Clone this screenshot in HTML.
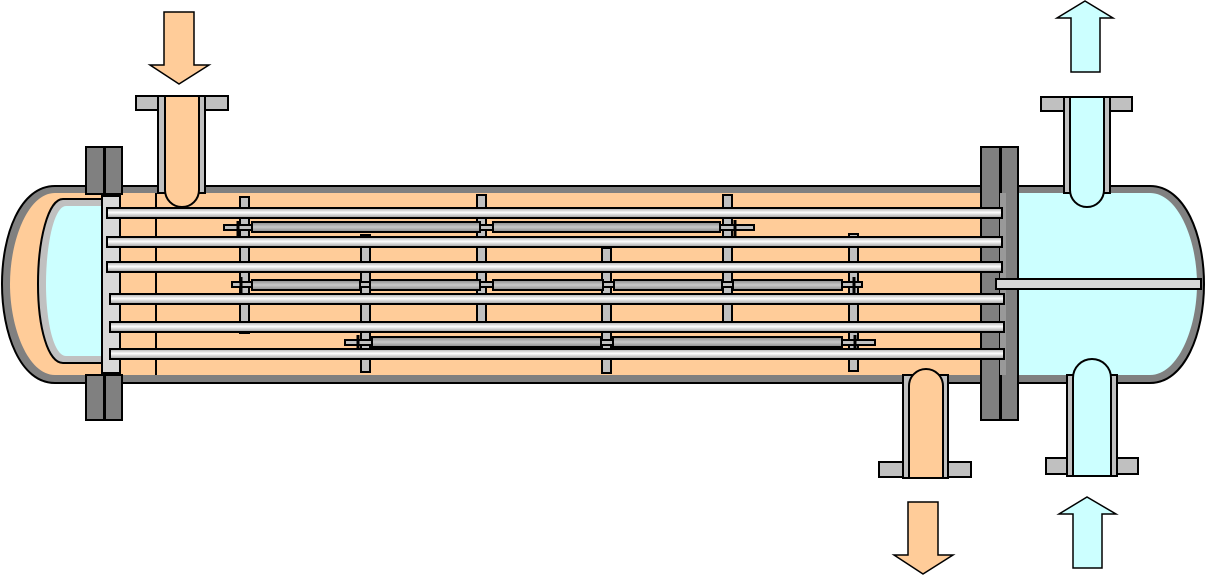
<!DOCTYPE html>
<html><head><meta charset="utf-8"><style>html,body{margin:0;padding:0;background:#fff}svg{display:block}</style></head>
<body>
<svg width="1206" height="575" viewBox="0 0 1206 575" xmlns="http://www.w3.org/2000/svg">
<defs>
<linearGradient id="tube" x1="0" y1="0" x2="0" y2="1">
<stop offset="0" stop-color="#aaa"/><stop offset="0.45" stop-color="#fff"/><stop offset="1" stop-color="#999"/>
</linearGradient>
<linearGradient id="rod" x1="0" y1="0" x2="0" y2="1">
<stop offset="0" stop-color="#888"/><stop offset="0.5" stop-color="#c8c8c8"/><stop offset="1" stop-color="#888"/>
</linearGradient>
</defs>
<g stroke="#000" stroke-width="2">
<!-- shell body -->
<rect x="100" y="186" width="920" height="197" fill="#808080"/>
<rect x="100" y="193" width="881" height="182" fill="#ffcc99" stroke="none"/>
<!-- left head -->
<path d="M55,186 C20,186 2,235 2,284 C2,333 20,383 55,383 L100,383 L100,186 Z" fill="#808080"/>
<path d="M55,193 C28,193 10,240 10,284 C10,328 28,375 55,375 L110,375 L110,193 Z" fill="#ffcc99" stroke="none"/>
<path d="M110,199 L63,199 C48,199 38,240 38,284 C38,328 48,363 63,363 L110,363 Z" fill="#c0c0c0"/>
<path d="M110,206 L66,206 C54,206 46,245 46,284 C46,323 54,356 66,356 L110,356 Z" fill="#ccffff" stroke="none"/>
<!-- left tubesheet and flanges -->
<rect x="102" y="196" width="18" height="177" fill="#d8d8d8"/>
<rect x="86" y="147" width="18" height="47" fill="#808080"/>
<rect x="105" y="147" width="17" height="47" fill="#808080"/>
<rect x="86" y="375" width="18" height="45" fill="#808080"/>
<rect x="105" y="375" width="17" height="45" fill="#808080"/>
<line x1="156" y1="193" x2="156" y2="375"/>
<!-- right channel -->
<path d="M1018,186 L1150,186 C1185,186 1204,235 1204,284 C1204,333 1185,383 1150,383 L1018,383 Z" fill="#808080"/>
<path d="M1006,193 L1150,193 C1178,193 1197,240 1197,284 C1197,328 1178,375 1150,375 L1006,375 Z" fill="#ccffff" stroke="none"/>
<rect x="981" y="147" width="19" height="273" fill="#808080"/>
<rect x="1001" y="147" width="17" height="273" fill="#808080"/>
<rect x="1000" y="193" width="6" height="182" fill="#999" stroke="none"/>
<rect x="996" y="279" width="205" height="10" fill="#d8d8d8"/>
<!-- baffles -->
<g fill="#c0c0c0">
<rect x="240" y="197" width="9" height="136"/>
<rect x="361" y="235" width="9" height="137"/>
<rect x="477" y="195" width="9" height="127"/>
<rect x="602" y="248" width="9" height="125"/>
<rect x="723" y="195" width="9" height="127"/>
<rect x="849" y="234" width="9" height="137"/>
</g>
<!-- rods -->
<g fill="#c0c0c0">
<rect x="224" y="225" width="28" height="5"/><rect x="480" y="225" width="13" height="5"/><rect x="720" y="225" width="34" height="5"/>
<rect x="232" y="282" width="20" height="5"/><rect x="360" y="282" width="10" height="5"/><rect x="480" y="282" width="13" height="5"/><rect x="603" y="282" width="11" height="5"/><rect x="722" y="282" width="11" height="5"/><rect x="842" y="282" width="20" height="5"/>
<rect x="345" y="340" width="27" height="5"/><rect x="601" y="340" width="12" height="5"/><rect x="842" y="340" width="33" height="5"/>
</g>
<g fill="url(#rod)">
<rect x="252" y="222" width="228" height="10"/><rect x="493" y="222" width="227" height="10"/>
<rect x="252" y="280" width="108" height="10"/><rect x="370" y="280" width="110" height="10"/><rect x="493" y="280" width="110" height="10"/><rect x="614" y="280" width="108" height="10"/><rect x="733" y="280" width="109" height="10"/>
<rect x="372" y="337" width="229" height="10"/><rect x="613" y="337" width="229" height="10"/>
</g>
<g stroke-width="3">
<line x1="238" y1="221" x2="238" y2="238"/><line x1="735" y1="220" x2="735" y2="236"/>
<line x1="241" y1="277" x2="241" y2="293"/><line x1="854" y1="277" x2="854" y2="293"/>
<line x1="358" y1="335" x2="358" y2="353"/><line x1="855" y1="335" x2="855" y2="353"/>
</g>
<!-- tubes -->
<g fill="url(#tube)">
<rect x="107" y="208" width="895" height="10"/>
<rect x="107" y="237" width="895" height="10"/>
<rect x="107" y="262" width="895" height="10"/>
<rect x="110" y="294" width="894" height="10"/>
<rect x="110" y="322" width="894" height="10"/>
<rect x="110" y="349" width="894" height="10"/>
</g>
<!-- top-left nozzle -->
<rect x="136" y="96" width="92" height="14" fill="#c0c0c0"/>
<path d="M158,96 L158,193 L205,193 L205,96 Z" fill="#c0c0c0"/>
<path d="M165,96 L165,190 A17,17 0 0 0 199,190 L199,96 Z" fill="#ffcc99"/>
<!-- top-right nozzle -->
<rect x="1041" y="97" width="91" height="14" fill="#c0c0c0"/>
<path d="M1064,97 L1064,193 L1110,193 L1110,97 Z" fill="#c0c0c0"/>
<path d="M1070,97 L1070,190 A17,17 0 0 0 1104,190 L1104,97 Z" fill="#ccffff"/>
<!-- bottom-middle nozzle -->
<rect x="879" y="462" width="92" height="15" fill="#c0c0c0"/>
<path d="M903,478 L903,375 L948,375 L948,478 Z" fill="#c0c0c0"/>
<path d="M909,478 L909,386 A17,17 0 0 1 943,386 L943,478 Z" fill="#ffcc99"/>
<!-- bottom-right nozzle -->
<rect x="1046" y="458" width="92" height="16" fill="#c0c0c0"/>
<path d="M1067,476 L1067,375 L1117,375 L1117,476 Z" fill="#c0c0c0"/>
<path d="M1073,476 L1073,378 A19,19 0 0 1 1111,378 L1111,476 Z" fill="#ccffff"/>
<!-- arrows -->
<path d="M164,12 L194,12 L194,65 L209,65 L179,84 L150,65 L164,65 Z" fill="#ffcc99" stroke-width="1.5"/>
<path d="M908,502 L938,502 L938,555 L953,555 L923,574 L894,555 L908,555 Z" fill="#ffcc99" stroke-width="1.5"/>
<path d="M1071,72 L1100,72 L1100,18 L1113,18 L1085,1 L1057,18 L1071,18 Z" fill="#ccffff" stroke-width="1.5"/>
<path d="M1073,568 L1102,568 L1102,514 L1116,514 L1087,497 L1059,514 L1073,514 Z" fill="#ccffff" stroke-width="1.5"/>
</g>
</svg>
</body></html>
